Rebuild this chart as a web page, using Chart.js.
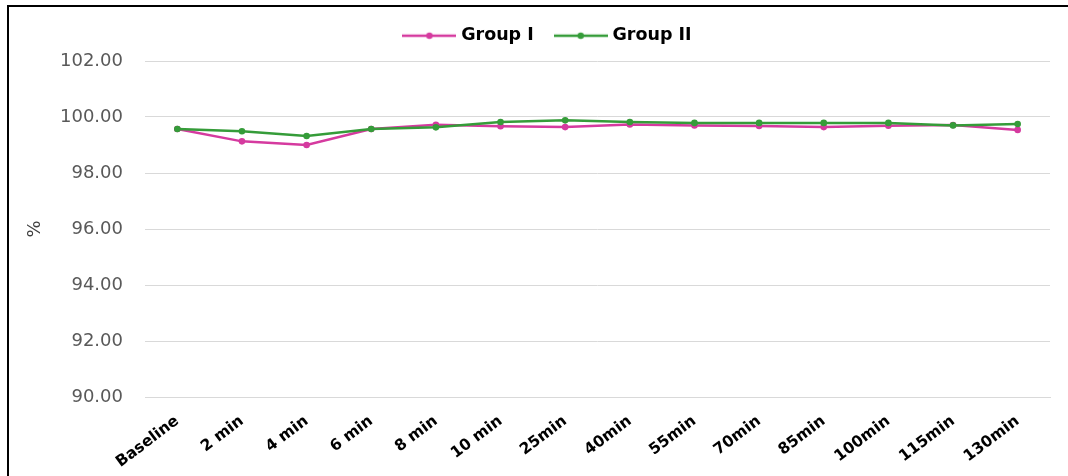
<!DOCTYPE html>
<html>
<head>
<meta charset="utf-8">
<script src="https://cdn.jsdelivr.net/npm/chart.js@4.4.1/dist/chart.umd.min.js"></script>
<style>
  html, body { margin: 0; padding: 0; background: #fff; overflow: hidden; }
  #chart { display: block; }
</style>
</head>
<body>
<canvas id="chart" width="1068" height="476"></canvas>
<script>
// Time points and oxygen saturation (%) per group
const categories = ['Baseline', '2 min', '4 min', '6 min', '8 min', '10 min', '25min',
                    '40min', '55min', '70min', '85min', '100min', '115min', '130min'];
const groupI  = [99.57, 99.13, 99.00, 99.57, 99.72, 99.67, 99.64, 99.73, 99.70, 99.68, 99.64, 99.69, 99.71, 99.54];
const groupII = [99.57, 99.49, 99.32, 99.57, 99.63, 99.82, 99.88, 99.82, 99.79, 99.79, 99.79, 99.79, 99.70, 99.75];
const seriesNames = ['Group I', 'Group II'];
const yTicks = [90, 92, 94, 96, 98, 100, 102];

const colors = ['#D53A9F', '#359C39'];

// Legend marker: short line with a dot in the middle
function legendIcon(color) {
  const c = document.createElement('canvas');
  c.width = 54; c.height = 10;
  const g = c.getContext('2d');
  g.strokeStyle = color; g.lineWidth = 2.5;
  g.beginPath(); g.moveTo(0, 5); g.lineTo(54, 5); g.stroke();
  g.fillStyle = color;
  g.beginPath(); g.arc(27, 5, 3.2, 0, Math.PI * 2); g.fill();
  return c;
}
const icons = colors.map(legendIcon);

// Fixed legend band height, legend centred over the plot area, and the outer frame
const fixLayout = {
  id: 'fixLayout',
  beforeInit(chart) {
    const lg = chart.legend;
    const fit = lg.fit;
    lg.fit = function () { fit.call(this); this.height = 58; };
  },
  afterLayout(chart) {
    const lg = chart.legend;
    lg.left += 24;
    lg.right += 24;
  },
  afterDraw(chart) {
    const ctx = chart.ctx;
    ctx.save();
    ctx.strokeStyle = '#000';
    ctx.lineWidth = 2;
    ctx.beginPath();
    ctx.moveTo(8, chart.height);
    ctx.lineTo(8, 6);
    ctx.lineTo(chart.width, 6);
    ctx.stroke();
    ctx.restore();
  }
};

new Chart(document.getElementById('chart'), {
  type: 'line',
  data: {
    labels: categories,
    datasets: [
      { label: seriesNames[0], data: groupI, borderColor: colors[0], backgroundColor: colors[0],
        borderWidth: 2.5, pointRadius: 3.3, pointBorderWidth: 0, pointBackgroundColor: colors[0], order: 2, tension: 0 },
      { label: seriesNames[1], data: groupII, borderColor: colors[1], backgroundColor: colors[1],
        borderWidth: 2.5, pointRadius: 3.3, pointBorderWidth: 0, pointBackgroundColor: colors[1], order: 1, tension: 0 }
    ]
  },
  options: {
    responsive: false,
    animation: false,
    layout: { padding: { top: 3, right: 18, left: 0, bottom: 0 } },
    plugins: {
      tooltip: { enabled: false },
      legend: {
        position: 'top',
        align: 'center',
        labels: {
          usePointStyle: true,
          pointStyleWidth: 46,
          padding: 24,
          color: '#000',
          font: { family: 'DejaVu Sans', size: 17.5, weight: 'bold' },
          generateLabels(chart) {
            const items = Chart.defaults.plugins.legend.labels.generateLabels(chart);
            items.sort((a, b) => a.datasetIndex - b.datasetIndex);
            items.forEach(it => { it.pointStyle = icons[it.datasetIndex]; });
            return items;
          }
        }
      }
    },
    scales: {
      x: {
        offset: true,
        grid: { display: false, drawTicks: false },
        border: { display: true, color: '#d9d9d9', width: 1 },
        ticks: {
          color: '#000',
          font: { family: 'DejaVu Sans', size: 15.5, weight: 'bold' },
          minRotation: 37, maxRotation: 37, autoSkip: false, padding: 15
        },
        afterFit(scale) { scale.height = 79; }
      },
      y: {
        min: 90, max: 102,
        afterBuildTicks(scale) { scale.ticks = yTicks.map(v => ({ value: v })); },
        grid: { color: '#d9d9d9', lineWidth: 1, drawTicks: false },
        border: { display: false },
        ticks: {
          color: '#595959',
          font: { family: 'DejaVu Sans', size: 18 },
          padding: 22,
          callback: v => Number(v).toFixed(2)
        },
        title: {
          display: true, text: '%', color: '#404040',
          font: { family: 'DejaVu Sans', size: 18 },
          padding: { top: 25, bottom: 0 }
        },
        afterFit(scale) { scale.width = 145; }
      }
    }
  },
  plugins: [fixLayout]
});
</script>
</body>
</html>
